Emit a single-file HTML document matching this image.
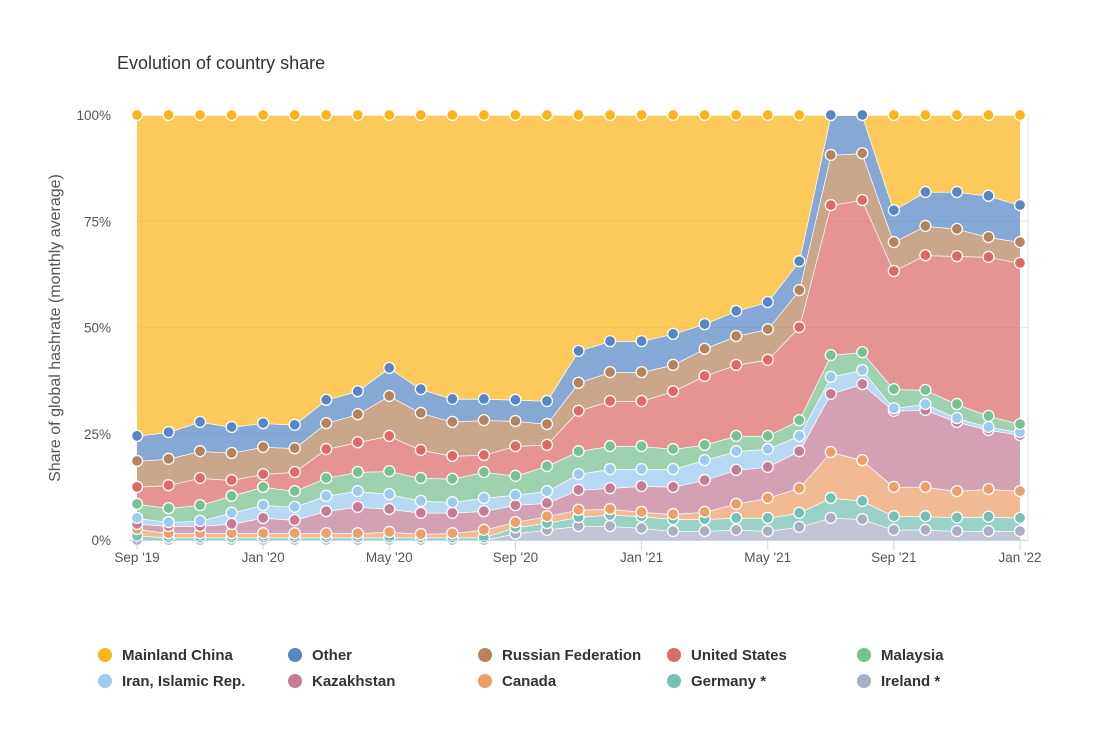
<!DOCTYPE html>
<html><head><meta charset="utf-8"><style>
body{margin:0;background:#fff;font-family:"Liberation Sans",sans-serif;}
svg{display:block}
</style></head><body>
<svg id="chart" width="1110" height="729" viewBox="0 0 1110 729" xmlns="http://www.w3.org/2000/svg">
<text x="117" y="69" font-size="18" fill="#333">Evolution of country share</text>
<text transform="translate(60,328) rotate(-90)" text-anchor="middle" font-size="16" fill="#555">Share of global hashrate (monthly average)</text>
<g id="grid"></g><g id="areas"></g><g id="dots"></g><g id="axes"></g><g id="legend"></g>
</svg>
<script>
const months = ["Sep '19","Oct '19","Nov '19","Dec '19","Jan '20","Feb '20","Mar '20","Apr '20","May '20","Jun '20","Jul '20","Aug '20","Sep '20","Oct '20","Nov '20","Dec '20","Jan '21","Feb '21","Mar '21","Apr '21","May '21","Jun '21","Jul '21","Aug '21","Sep '21","Oct '21","Nov '21","Dec '21","Jan '22"];
const xTickLabels = ["Sep '19","Jan '20","May '20","Sep '20","Jan '21","May '21","Sep '21","Jan '22"];
const yTicks = [0,25,50,75,100];
const ireland = [0,0,0,0,0,0,0,0,0,0,0,0,1.5,2.4,3.3,3.3,2.8,2.1,2.1,2.4,2.1,3.1,5.2,4.9,2.4,2.4,2.1,2.1,2.1];
const germany = [1.0,0.6,0.6,0.6,0.6,0.6,0.6,0.6,0.6,0.6,0.6,0.6,1.5,1.6,2.1,2.6,2.8,2.8,2.8,2.8,3.1,3.3,4.7,4.3,3.2,3.2,3.2,3.4,3.1];
const canada = [1.6,1.0,1.0,1.0,1.0,1.0,1.0,1.0,1.3,0.8,1.0,1.8,1.2,1.6,1.7,1.4,1.0,1.2,1.7,3.3,4.7,5.8,10.8,9.6,6.9,6.9,6.2,6.5,6.3];
const kazakhstan = [1.2,1.7,1.7,2.2,3.6,3.1,5.2,6.2,5.4,5.0,4.8,4.4,4.0,3.1,4.7,4.9,6.1,6.4,7.5,8.0,7.3,8.7,13.7,17.9,17.9,18.1,16.3,13.9,13.2];
const iran = [1.4,0.9,1.2,2.6,3.0,3.1,3.6,3.7,3.5,2.8,2.5,3.1,2.4,2.8,3.7,4.5,4.0,4.2,4.7,4.4,4.2,3.6,4.0,3.3,0.6,1.4,0.9,0.7,0.7];
const malaysia = [3.3,3.3,3.7,4.0,4.3,3.7,4.2,4.5,5.4,5.4,5.5,6.1,4.5,5.9,5.4,5.4,5.4,4.7,3.6,3.6,3.1,3.7,5.1,4.2,4.5,3.3,3.3,2.6,1.9];
const unitedStates = [4.0,5.4,6.4,3.7,3.0,4.5,6.8,7.0,8.3,6.6,5.4,4.0,7.0,5.0,9.5,10.6,10.6,13.6,16.2,16.7,17.9,21.9,35.3,35.8,27.8,31.7,34.8,37.4,37.9];
const russia = [6.1,6.2,6.3,6.4,6.4,5.6,6.1,6.6,9.4,8.7,8.0,8.2,5.9,4.9,6.6,6.8,6.8,6.2,6.4,6.8,7.2,8.7,11.8,11.0,6.8,6.9,6.4,4.7,4.9];
const other = [5.9,6.3,6.9,6.1,5.6,5.5,5.5,5.4,6.6,5.6,5.4,5.0,5.0,5.4,7.5,7.3,7.3,7.3,5.8,5.9,6.4,6.8,9.4,9.0,7.5,8.0,8.7,9.7,8.7];
const china = [75.5,74.6,72.2,73.4,72.5,72.9,67,65,59.5,64.5,66.8,66.8,67,67.3,55.5,53.2,53.2,51.5,49.2,46.1,44,34.4,0,0,22.4,18.1,18.1,19,21.2];

const series = [
 {name:"Ireland *",key:"ireland",v:ireland,c:"#a9aec4"},
 {name:"Germany *",key:"germany",v:germany,c:"#74c1b3"},
 {name:"Canada",key:"canada",v:canada,c:"#eba06b"},
 {name:"Kazakhstan",key:"kazakhstan",v:kazakhstan,c:"#c47c97"},
 {name:"Iran, Islamic Rep.",key:"iran",v:iran,c:"#9ccbee"},
 {name:"Malaysia",key:"malaysia",v:malaysia,c:"#79c190"},
 {name:"United States",key:"united-states",v:unitedStates,c:"#dc6b66"},
 {name:"Russian Federation",key:"russia",v:russia,c:"#b5845d"},
 {name:"Other",key:"other",v:other,c:"#5686c3"},
 {name:"Mainland China",key:"china",v:china,c:"#fbb41a"}
];
const X0=137,X1=1020,Y0=540,Y1=115;
const xs=i=>X0+(X1-X0)*i/(months.length-1);
const ys=v=>Y0-(Y0-Y1)*v/100;
const NS="http://www.w3.org/2000/svg";
function mk(tag,attrs,parent){const e=document.createElementNS(NS,tag);for(const k in attrs)e.setAttribute(k,attrs[k]);parent.appendChild(e);return e;}
const grid=document.getElementById('grid'),areas=document.getElementById('areas'),dots=document.getElementById('dots'),axes=document.getElementById('axes'),legend=document.getElementById('legend');
yTicks.forEach(t=>{
 const l=mk('line',{x1:X0,x2:1028,y1:ys(t),y2:ys(t),stroke:'#e8e8e8','stroke-width':1},grid);
 
 
 const tx=mk('text',{x:111,y:ys(t)+5,'text-anchor':'end','font-size':13.5,fill:'#555'},axes);
 tx.textContent=t+'%';
 
 
});
const bl=mk('line',{x1:X0-8,x2:1028,y1:Y0+0.5,y2:Y0+0.5,stroke:'#ccd6eb','stroke-width':1},axes);


const rl=mk('line',{x1:1028,x2:1028,y1:Y1,y2:Y0,stroke:'#e0e0e0','stroke-width':1},axes);


xTickLabels.forEach(lbl=>{
 const i=months.indexOf(lbl);
 const tk=mk('line',{x1:xs(i),x2:xs(i),y1:Y0,y2:Y0+10,stroke:'#ccd6eb'},axes);
 
 
 const tx=mk('text',{x:xs(i),y:Y0+22,'text-anchor':'middle','font-size':13.5,fill:'#555'},axes);
 tx.textContent=lbl;
 
 
});
const base=months.map(()=>0);
series.forEach(s=>{
 const top=base.map((b,i)=>b+s.v[i]);
 let d='M'+top.map((t,i)=>xs(i)+','+ys(t)).join('L');
 for(let i=months.length-1;i>=0;i--)d+='L'+xs(i)+','+ys(base[i]);
 d+='Z';
 const p=mk('path',{d:d,fill:s.c,'fill-opacity':0.72,stroke:'none'},areas);
 
 
 const ln=mk('path',{d:'M'+top.map((t,i)=>xs(i)+','+ys(t)).join('L'),fill:'none',stroke:'#fff','stroke-width':1.5},areas);
 
 
 s.top=top;
 top.forEach((t,i)=>{base[i]=t;});
});
series.forEach(s=>{
 s.top.forEach((t,i)=>{
  if(s.key==='china'&&s.v[i]===0)return;
  const c=mk('circle',{cx:xs(i),cy:ys(t),r:5.5,fill:s.c,stroke:'#fff','stroke-width':1.3},dots);
  
  
 });
});
const legOrder=["china","other","russia","united-states","malaysia","iran","kazakhstan","canada","germany","ireland"];
const colX=[105,295,485,674,864];
legOrder.forEach((k,j)=>{
 const s=series.find(q=>q.key===k);
 const x=colX[j%5],y=j<5?655:681;
 const g=mk('g',{},legend);
 
 
 mk('circle',{cx:x,cy:y,r:7,fill:s.c},g);
 const t=mk('text',{x:x+17,y:y+5,'font-size':15,'font-weight':'bold',fill:'#333'},g);
 t.textContent=s.name;
});
</script>
</body></html>
